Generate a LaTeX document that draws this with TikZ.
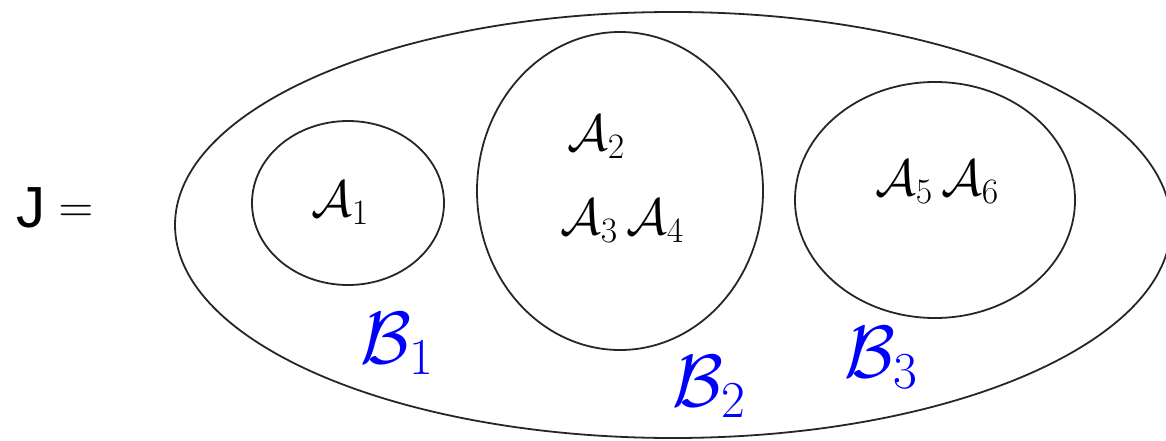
\RequirePackage{fix-cm}
\documentclass[tikz,border=0pt]{standalone}
\usepackage{fontspec}
\newfontfamily\jfont{Liberation Sans}
\begin{document}
\begin{tikzpicture}[x=1pt,y=-1pt,
  setline/.style={draw=black!85, line width=1.8pt},
  alab/.style={font=\fontsize{51}{55}\selectfont, inner sep=0pt},
  blab/.style={font=\fontsize{74}{80}\selectfont, inner sep=0pt, text=blue}]
\useasboundingbox (0,0) rectangle (1166,441);
\draw[setline] (673,225) ellipse [x radius=498, y radius=213];
\draw[setline] (348,203) ellipse [x radius=96, y radius=82];
\draw[setline] (620,191) ellipse [x radius=143, y radius=159];
\draw[setline] (935,200) ellipse [x radius=140, y radius=118];
\node[inner sep=0pt, font=\jfont\fontsize{58}{62}\selectfont] (j) at (31,208) {J};
\node[inner sep=0pt, font=\fontsize{48}{52}\selectfont] (eq) at (76,214) {$=$};
\node[alab] (a1) at (340,203) {$\mathcal{A}_1$};
\node[alab] (a2) at (596,137) {$\mathcal{A}_2$};
\node[alab] (a34) at (622,221) {$\mathcal{A}_3\,\mathcal{A}_4$};
\node[alab] (a56) at (937,182) {$\mathcal{A}_5\,\mathcal{A}_6$};
\node[blab] (b1) at (397,344) {$\mathcal{B}_1$};
\node[blab] (b2) at (709,387) {$\mathcal{B}_2$};
\node[blab] (b3) at (881,358) {$\mathcal{B}_3$};
\end{tikzpicture}
\end{document}
